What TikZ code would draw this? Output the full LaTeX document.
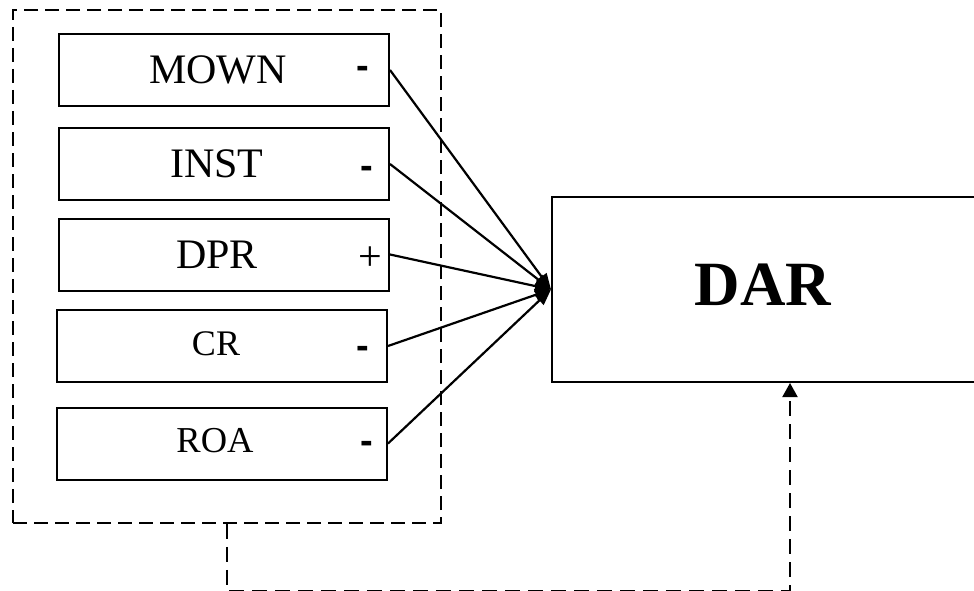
\documentclass[tikz,border=0pt]{standalone}
\usepackage{fontspec}
\setmainfont{Liberation Serif}
\newfontfamily\signfont{Liberation Sans}
\usetikzlibrary{arrows.meta}
\begin{document}
\begin{tikzpicture}[x=1pt,y=-1pt,
  varbox/.style={draw,line width=2pt,minimum width=330pt,minimum height=72pt,inner sep=0pt},
  lbl/.style={inner sep=0pt,font=\fontsize{42}{42}\selectfont},
  lblsmall/.style={inner sep=0pt,font=\fontsize{36}{36}\selectfont},
  minus/.style={inner sep=0pt,font=\signfont\bfseries\fontsize{38}{38}\selectfont},
  plus/.style={inner sep=0pt,font=\fontsize{42}{42}\selectfont},
  conn/.style={line width=2.2pt,-{Triangle[length=16pt,width=12pt]}},
  grpbox/.style={draw,line width=1.8pt,dash pattern=on 14pt off 7pt,inner sep=0pt,
                 minimum width=428pt,minimum height=513pt},
  dashconn/.style={line width=2pt,dash pattern=on 15pt off 8pt,-{Triangle[length=14pt,width=15pt]}},
  darbox/.style={draw,line width=2pt,minimum width=424pt,minimum height=185pt,inner sep=0pt}]
\useasboundingbox (0,0) rectangle (974,591);

% group box
\node[grpbox] (grp) at (227,266.5) {};

% variable boxes
\node[varbox] (mown) at (224,70) {};
\node[varbox] (inst) at (224,164) {};
\node[varbox] (dpr)  at (224,254.5) {};
\node[varbox] (cr)   at (222,346) {};
\node[varbox] (roa)  at (222,443.5) {};

% labels
\node[lbl] (tmown) at (218,70) {MOWN};
\node[lbl] (tinst) at (217,164) {INST};
\node[lbl] (tdpr)  at (217,255) {DPR};
\node[lblsmall] (tcr)  at (216,344) {CR};
\node[inner sep=0pt,font=\fontsize{36.5}{36.5}\selectfont] (troa) at (215,440.5) {ROA};

% signs
\node[minus] (smown) at (363,72) {-};
\node[minus] (sinst) at (367,172) {-};
\node[plus]  (sdpr)  at (370,259) {+};
\node[minus] (scr)   at (363,352) {-};
\node[minus] (sroa)  at (367,447) {-};

% DAR
\node[darbox] (dar) at (764,289.5) {};
\node[inner sep=0pt,font=\bfseries\fontsize{63}{63}\selectfont] (tdar) at (763,285) {DAR};

% connectors
\draw[conn] (mown.east) -- (dar.west);
\draw[conn] (inst.east) -- (dar.west);
\draw[conn] (dpr.east)  -- (dar.west);
\draw[conn] (cr.east)   -- (dar.west);
\draw[conn] (roa.east)  -- (dar.west);

\draw[dashconn] (grp.south) -- ++(0,67) -| ([xshift=26pt]dar.south);
\end{tikzpicture}
\end{document}
